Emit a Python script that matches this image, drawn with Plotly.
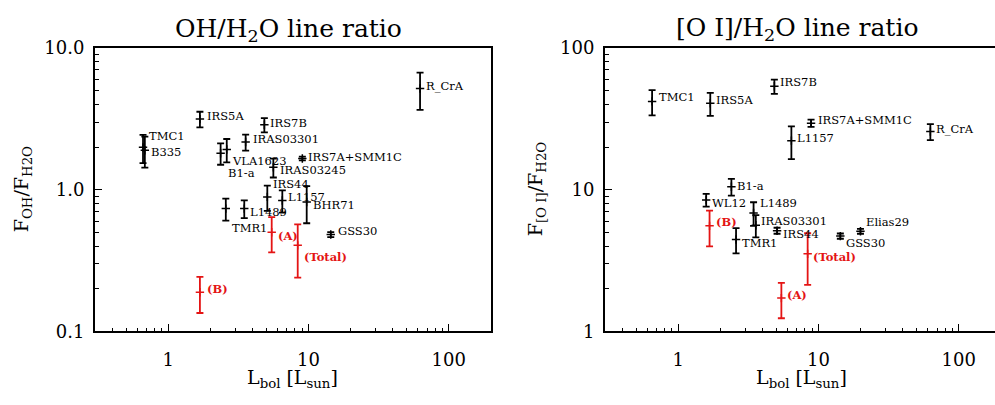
import numpy as np
import plotly.graph_objects as go

# ---------------- OH / H2O line ratio ----------------
oh_names = ["R_CrA", "IRS5A", "IRS7B", "TMC1", "B335", "IRAS03301", "VLA1623", "B1-a",
            "IRS7A+SMM1C", "IRAS03245", "IRS44", "L1157", "BHR71", "TMR1", "L1489", "GSS30"]
oh_lbol = [62.4, 1.68, 4.84, 0.66, 0.68, 3.56, 2.61, 2.36, 9.03, 5.61, 5.08, 6.5, 9.7, 2.57, 3.48, 14.4]
oh_ratio = [5.18, 3.15, 2.87, 1.99, 1.90, 2.17, 1.92, 1.81, 1.66, 1.44, 0.89, 0.84, 0.82, 0.736, 0.736, 0.483]
oh_err = [1.52, 0.40, 0.33, 0.45, 0.47, 0.28, 0.36, 0.31, 0.05, 0.22, 0.18, 0.15, 0.24, 0.13, 0.105, 0.02]

oh_comp_names = ["(A)", "(Total)", "(B)"]
oh_comp_lbol = [5.46, 8.37, 1.68]
oh_comp_ratio = [0.501, 0.405, 0.189]
oh_comp_err = [0.14, 0.165, 0.054]

# ---------------- [O I] / H2O line ratio ----------------
oi_names = ["TMC1", "IRS5A", "IRS7B", "IRS7A+SMM1C", "L1157", "R_CrA", "B1-a", "WL12",
            "L1489", "IRAS03301", "IRS44", "TMR1", "GSS30", "Elias29"]
oi_lbol = [0.65, 1.69, 4.84, 8.84, 6.4, 62.7, 2.39, 1.58, 3.44, 3.57, 5.06, 2.58, 14.3, 19.9]
oi_ratio = [42.0, 40.7, 53.7, 29.5, 22.2, 25.7, 10.5, 8.47, 6.86, 5.61, 5.14, 4.46, 4.71, 5.09]
oi_err = [8.5, 7.5, 6.2, 1.75, 5.75, 3.3, 1.42, 0.87, 1.3, 1.0, 0.25, 0.9, 0.2, 0.2]

oi_comp_names = ["(B)", "(Total)", "(A)"]
oi_comp_lbol = [1.67, 8.36, 5.43]
oi_comp_ratio = [5.56, 3.53, 1.72]
oi_comp_err = [1.57, 1.4, 0.48]

# label offsets from each point, in pixels (dx right, dy up)
oh_label_dx = [6, 7, 6, 6, 6, 7, 5, 7, 6, 7, 6, 6, 6, 6, 6, 7]
oh_label_dy = [2, 3, 2, 11, -2, 3, -11, -20, 2, -3, 13, 3, -3, -19, -3, 4]
oh_comp_dx = [6, 6, 7]
oh_comp_dy = [-4, -12, 3]
oi_label_dx = [7, 6, 6, 7, 6, 6, 6, 6, 6, 5, 6, 6, 6, 6]
oi_label_dy = [4, 3, 4, 3, 3, 3, 1, -3, 10, 4, -3, -4, -7, 9]
oi_comp_dx = [6, 5, 6]
oi_comp_dy = [4, -3, 3]

BLACK = "black"
RED = "rgb(228,20,20)"
SERIF = "DejaVu Serif"

W, H = 995, 405
fig = go.Figure()


def add_series(x, y, err, color, xa, ya):
    fig.add_trace(go.Scatter(
        x=x, y=y, mode="markers", xaxis=xa, yaxis=ya,
        marker=dict(symbol="cross-thin", size=6, line=dict(color=color, width=1.5), color=color),
        error_y=dict(type="data", array=err, symmetric=True, color=color, thickness=1.8, width=3.5),
        showlegend=False, hoverinfo="skip",
    ))


def add_labels(names, x, y, dx, dy, color, xref, yref, bold=False):
    for n, xv, yv, sx, sy in zip(names, x, y, dx, dy):
        txt = f"<b>{n}</b>" if bold else n
        fig.add_annotation(
            x=np.log10(xv), y=np.log10(yv), xref=xref, yref=yref, text=txt,
            showarrow=False, xanchor="left", yanchor="middle",
            xshift=sx - 1, yshift=sy, borderpad=0,
            font=dict(family=SERIF, size=11.5, color=color),
        )


add_series(oh_lbol, oh_ratio, oh_err, BLACK, "x", "y")
add_series(oh_comp_lbol, oh_comp_ratio, oh_comp_err, RED, "x", "y")
add_series(oi_lbol, oi_ratio, oi_err, BLACK, "x2", "y2")
add_series(oi_comp_lbol, oi_comp_ratio, oi_comp_err, RED, "x2", "y2")

add_labels(oh_names, oh_lbol, oh_ratio, oh_label_dx, oh_label_dy, BLACK, "x", "y")
add_labels(oh_comp_names, oh_comp_lbol, oh_comp_ratio, oh_comp_dx, oh_comp_dy, RED, "x", "y", bold=True)
add_labels(oi_names, oi_lbol, oi_ratio, oi_label_dx, oi_label_dy, BLACK, "x2", "y2")
add_labels(oi_comp_names, oi_comp_lbol, oi_comp_ratio, oi_comp_dx, oi_comp_dy, RED, "x2", "y2", bold=True)

# plot boxes in pixels
left_box = (95, 491)
right_box = (605, 995)
top_px, bot_px = 39, 338
ydom = [(H - bot_px) / H, (H - top_px) / H]

x_minor = [v * d for d in (0.1, 1, 10, 100) for v in range(2, 10) if 0.3 <= v * d <= 200]
y_minor_oh = [v * d for d in (0.1, 1) for v in range(2, 10)]
y_minor_oi = [v * d for d in (1, 10) for v in range(2, 10)]


def log_axis(domain, rng, tickvals, ticktext, minor_vals, standoff, labels=True, line=True,
             major_len=7, minor_len=3.5):
    ax = dict(
        type="log", domain=domain, range=rng,
        showline=line, linecolor=BLACK, linewidth=2, mirror=line,
        ticks="inside", ticklen=major_len, tickwidth=1.3, tickcolor=BLACK,
        tickmode="array", tickvals=tickvals, ticktext=ticktext,
        showticklabels=labels,
        tickfont=dict(family=SERIF, size=18, color=BLACK),
        ticklabelstandoff=standoff,
        showgrid=False, zeroline=False,
    )
    if minor_vals:
        ax["minor"] = dict(ticks="inside", ticklen=minor_len, tickwidth=1.2, tickcolor=BLACK,
                           tickvals=minor_vals, showgrid=False)
    return ax


xl = np.log10(0.3)
xr_left = np.log10(200)
dec_px = (left_box[1] - left_box[0]) / (xr_left - xl)
xr_right = xl + (right_box[1] - right_box[0]) / dec_px
xdom_l = [left_box[0] / W, left_box[1] / W]
xdom_r = [right_box[0] / W, right_box[1] / W]
ticks_x = ([1, 10, 100], ["1", "10", "100"])

fig.update_layout(
    width=W, height=H,
    margin=dict(l=0, r=0, t=0, b=0),
    paper_bgcolor="white", plot_bgcolor="white",
    xaxis=dict(log_axis(xdom_l, [xl, xr_left], *ticks_x, x_minor, 11), anchor="y"),
    yaxis=dict(log_axis(ydom, [-1, 1], [0.1, 1, 10], ["0.1", "1.0", "10.0"], y_minor_oh, 5), anchor="x"),
    xaxis2=dict(log_axis(xdom_r, [xl, xr_right], *ticks_x, x_minor, 11), anchor="y2"),
    yaxis2=dict(log_axis(ydom, [0, 2], [1, 10, 100], ["1", "10", "100"], y_minor_oi, 5), anchor="x2"),
    # tick marks along the top and right edges of each box
    xaxis3=dict(log_axis(xdom_l, [xl, xr_left], *ticks_x, x_minor, 0, labels=False, line=False),
                overlaying="x", side="top", anchor="y"),
    yaxis3=dict(log_axis(ydom, [-1, 1], [0.1, 1, 10], ["", "", ""], y_minor_oh, 0, labels=False, line=False),
                overlaying="y", side="right", anchor="x"),
    xaxis4=dict(log_axis(xdom_r, [xl, xr_right], *ticks_x, x_minor, 0, labels=False, line=False),
                overlaying="x2", side="top", anchor="y2"),
    yaxis4=dict(log_axis(ydom, [0, 2], [10], [""], None, 0, labels=False, line=False, major_len=3),
                overlaying="y2", side="right", anchor="x2"),
)
# right panel: box line drawn on the left, top and bottom only
fig.layout.yaxis2.mirror = False
fig.layout.xaxis2.mirror = True

# titles
titles = [
    ("OH/H<sub>2</sub>O line ratio", 288, 20),
    ("[O I]/H<sub>2</sub>O line ratio", 797, 19),
]
for t, px, py in titles:
    fig.add_annotation(x=px / W, y=1 - py / H, xref="paper", yref="paper", text=t,
                       showarrow=False, xanchor="center", yanchor="middle",
                       font=dict(family=SERIF, size=25, color=BLACK))

for px in (292, 801):
    fig.add_annotation(x=px / W, y=1 - 388 / H, xref="paper", yref="paper",
                       text="L<sub>bol</sub> [L<sub>sun</sub>]", showarrow=False,
                       xanchor="center", yanchor="middle",
                       font=dict(family=SERIF, size=19, color=BLACK))

for t, px in (("F<sub>OH</sub>/F<sub>H2O</sub>", 22), ("F<sub>[O I]</sub>/F<sub>H2O</sub>", 536)):
    fig.add_annotation(x=px / W, y=1 - 188 / H, xref="paper", yref="paper", text=t,
                       showarrow=False, textangle=-90, xanchor="center", yanchor="middle",
                       font=dict(family=SERIF, size=19, color=BLACK))

fig.write_html("out.html")
